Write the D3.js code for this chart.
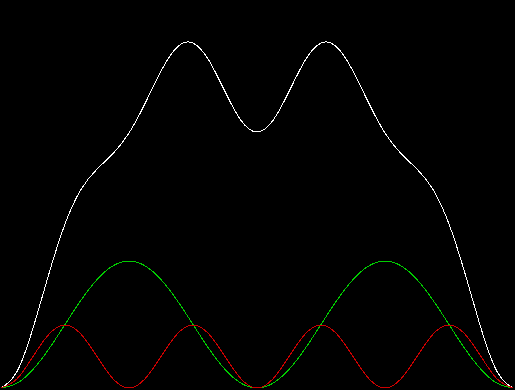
<!DOCTYPE html>
<html>
<head>
<meta charset="utf-8">
<script src="https://cdn.jsdelivr.net/npm/d3@7"></script>
<style>
  html, body { margin: 0; padding: 0; background: #000; overflow: hidden; }
  svg { display: block; }
</style>
</head>
<body>
<svg id="chart" width="515" height="390"></svg>
<script>
// sample positions along the x axis (one every 16 px of the plot)
var samples = d3.range(0, 33);

// series, heights above the baseline
var whiteValues = [0, 16.5, 59.8, 114.5, 164.0, 198.5, 218.9, 234.4, 255.0, 284.4, 316.9, 340.7, 345.0, 327.4, 296.4, 267.6, 256.0,
                   267.6, 296.4, 327.4, 345.0, 340.7, 316.9, 284.4, 255.0, 234.4, 218.9, 198.5, 164.0, 114.5, 59.8, 16.5, 0];
var greenValues = [0, 4.8, 18.6, 39.2, 63.5, 87.8, 108.4, 122.2, 127.0, 122.2, 108.4, 87.8, 63.5, 39.2, 18.6, 4.8, 0,
                   4.8, 18.6, 39.2, 63.5, 87.8, 108.4, 122.2, 127.0, 122.2, 108.4, 87.8, 63.5, 39.2, 18.6, 4.8, 0];
var redValues = [0, 9.2, 31.5, 53.8, 63.0, 53.8, 31.5, 9.2, 0, 9.2, 31.5, 53.8, 63.0, 53.8, 31.5, 9.2, 0,
                 9.2, 31.5, 53.8, 63.0, 53.8, 31.5, 9.2, 0, 9.2, 31.5, 53.8, 63.0, 53.8, 31.5, 9.2, 0];

var series = [
  { name: 'white', values: whiteValues, color: '#ffffff' },
  { name: 'green', values: greenValues, color: '#00cc00' },
  { name: 'red', values: redValues, color: '#cc0000' }
];

var svg = d3.select('#chart');

var x = d3.scaleLinear().domain([0, 32]).range([1, 513]);
var y = d3.scaleLinear().domain([0, 388]).range([388, 0]);

var line = d3.line()
  .x(function (d, i) { return x(samples[i]); })
  .y(function (d) { return y(d); })
  .curve(d3.curveNatural);

svg.append('rect')
  .attr('width', 515)
  .attr('height', 390)
  .attr('fill', '#000');

svg.selectAll('path.series')
  .data(series)
  .enter()
  .append('path')
  .attr('class', 'series')
  .attr('d', function (s) { return line(s.values); })
  .attr('fill', 'none')
  .attr('stroke', function (s) { return s.color; })
  .attr('stroke-width', 1)
  .attr('shape-rendering', 'crispEdges');
</script>
</body>
</html>
